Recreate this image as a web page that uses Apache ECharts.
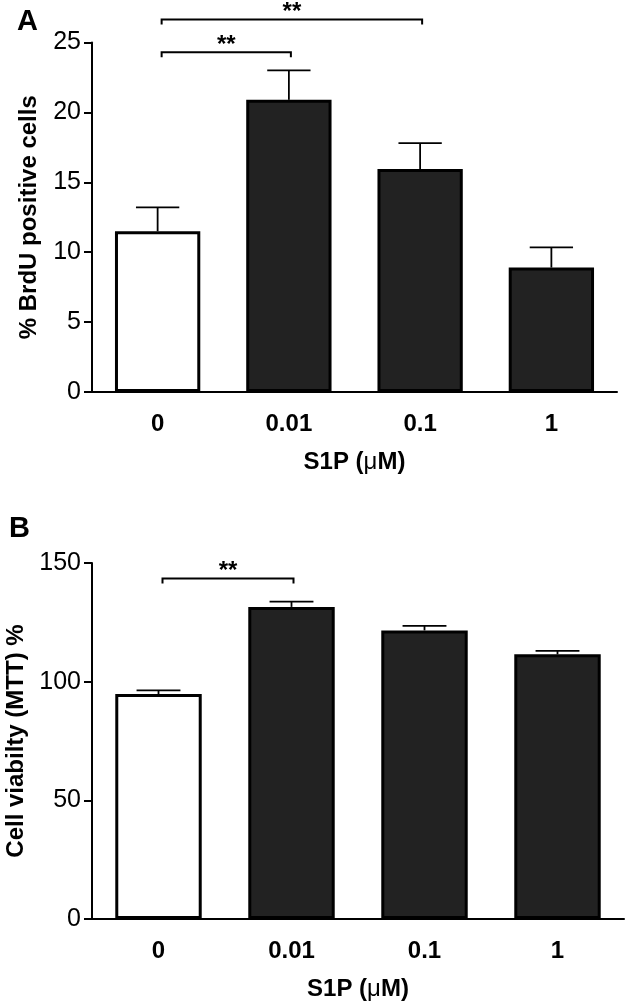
<!DOCTYPE html>
<html><head><meta charset="utf-8">
<script src="https://cdn.jsdelivr.net/npm/echarts@6/dist/echarts.min.js"></script>
<style>html,body{margin:0;padding:0;background:#fff}#c{width:625px;height:1002px}</style>
</head><body><div id="c"></div>
<script>
const categories = ['0', '0.01', '0.1', '1'];
const brduMean = [11.5, 20.9, 15.95, 8.9];
const brduSem = [1.7, 2.1, 1.85, 1.45];
const mttMean = [94.8, 131.5, 121.6, 111.5];
const mttSem = [1.5, 2.2, 1.9, 1.5];
const brduTicks = { min: 0, max: 25, interval: 5 };
const mttTicks = { min: 0, max: 150, interval: 50 };
const brduBrackets = [[0, 1, 24.3], [0, 2, 26.65]];
const mttBrackets = [[0, 1, 143.5]];
const sigLabel = '**';
const yNameA = '% BrdU positive cells';
const yNameB = 'Cell viabilty (MTT) %';
const xName = 'S1P ({mu|μ}M)';

const FONT = '"Liberation Sans", Arial, Helvetica, sans-serif';
const chart = echarts.init(document.getElementById('c'), null, { renderer: 'canvas' });

function errRender(params, api) {
  const x = api.value(0), m = api.value(1), u = api.value(2);
  const p0 = api.coord([x, m]);
  const p1 = api.coord([x, u]);
  const half = api.size([1, 0])[0] * 0.165;
  return {
    type: 'group', children: [
      { type: 'line', shape: { x1: p0[0], y1: p0[1], x2: p1[0], y2: p1[1] }, style: { stroke: '#000', lineWidth: 1.8 } },
      { type: 'line', shape: { x1: p1[0] - half, y1: p1[1], x2: p1[0] + half, y2: p1[1] }, style: { stroke: '#000', lineWidth: 1.8 } }
    ]
  };
}
function bracketRender(params, api) {
  const a = api.coord([api.value(0), api.value(2)]);
  const b = api.coord([api.value(1), api.value(2)]);
  const d = 5;
  const xa = a[0] + 4, xb = b[0] + 2;
  return {
    type: 'group', children: [
      { type: 'polyline', shape: { points: [[xa, a[1] + d], [xa, a[1]], [xb, b[1]], [xb, b[1] + d]] }, style: { stroke: '#000', lineWidth: 2, fill: null } },
      { type: 'text', style: { text: sigLabel, x: (xa + xb) / 2, y: a[1] + 5, align: 'center', verticalAlign: 'bottom', font: 'bold 24px ' + FONT, fill: '#000' } }
    ]
  };
}
function barData(vals) {
  return vals.map((v, i) => ({ value: v, itemStyle: { color: i === 0 ? '#ffffff' : '#222222' } }));
}
function errData(mean, sem) {
  return mean.map((v, i) => [i, v, +(v + sem[i]).toFixed(3)]);
}
function xAxis(gi) {
  return {
    type: 'category', data: categories, gridIndex: gi,
    axisLine: { lineStyle: { color: '#000', width: 2 } },
    axisTick: { show: false },
    axisLabel: { color: '#000', fontSize: 24, fontWeight: 'bold', fontFamily: FONT, margin: 20 },
    name: xName, nameLocation: 'middle', nameGap: 58,
    nameTextStyle: { color: '#000', fontSize: 24, fontWeight: 'bold', fontFamily: FONT, rich: { mu: { fontSize: 24, fontWeight: 'normal', fontFamily: FONT, color: '#000' } } }
  };
}
function yAxis(gi, t, name, gap) {
  return {
    type: 'value', gridIndex: gi, min: t.min, max: t.max, interval: t.interval,
    axisLine: { show: true, lineStyle: { color: '#000', width: 2 } },
    axisTick: { show: true, length: 8, lineStyle: { color: '#000', width: 2 } },
    splitLine: { show: false },
    axisLabel: { color: '#000', fontSize: 25, fontFamily: FONT, margin: 11 },
    name: name, nameLocation: 'middle', nameRotate: 90, nameGap: gap,
    nameTextStyle: { color: '#000', fontSize: 24, fontWeight: 'bold', fontFamily: FONT }
  };
}
const option = {
  backgroundColor: '#fff',
  animation: false,
  title: [
    { text: 'A', left: 12, top: 2, textStyle: { fontSize: 29, fontWeight: 'bold', fontFamily: FONT, color: '#000' } },
    { text: 'B', left: 4, top: 509, textStyle: { fontSize: 29, fontWeight: 'bold', fontFamily: FONT, color: '#000' } }
  ],
  grid: [
    { left: 92, right: 8, top: 42.5, height: 349.5, containLabel: false, outerBoundsMode: 'none' },
    { left: 92, right: 1, top: 563, height: 356, containLabel: false, outerBoundsMode: 'none' }
  ],
  xAxis: [xAxis(0), xAxis(1)],
  yAxis: [yAxis(0, brduTicks, yNameA, 51), yAxis(1, mttTicks, yNameB, 64)],
  series: [
    { type: 'custom', xAxisIndex: 0, yAxisIndex: 0, renderItem: errRender, data: errData(brduMean, brduSem), z: 1, encode: { x: 0, y: [1, 2] } },
    { type: 'bar', xAxisIndex: 0, yAxisIndex: 0, data: barData(brduMean), barWidth: '65%', itemStyle: { borderColor: '#000', borderWidth: 3 }, z: 2 },
    { type: 'custom', xAxisIndex: 0, yAxisIndex: 0, renderItem: bracketRender, data: brduBrackets, z: 3, clip: false, encode: { x: [0, 1], y: 2 } },
    { type: 'custom', xAxisIndex: 1, yAxisIndex: 1, renderItem: errRender, data: errData(mttMean, mttSem), z: 1, encode: { x: 0, y: [1, 2] } },
    { type: 'bar', xAxisIndex: 1, yAxisIndex: 1, data: barData(mttMean), barWidth: '65%', itemStyle: { borderColor: '#000', borderWidth: 3 }, z: 2 },
    { type: 'custom', xAxisIndex: 1, yAxisIndex: 1, renderItem: bracketRender, data: mttBrackets, z: 3, clip: false, encode: { x: [0, 1], y: 2 } }
  ]
};
chart.setOption(option);
</script>
</body></html>
